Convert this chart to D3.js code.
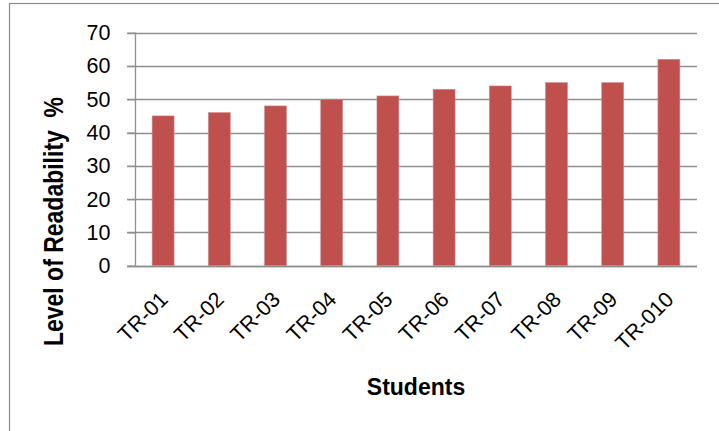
<!DOCTYPE html>
<html>
<head>
<meta charset="utf-8">
<script src="https://cdn.jsdelivr.net/npm/d3@7"></script>
<style>
  body { margin: 0; background: #fff; }
  svg { display: block; font-family: "Liberation Sans", Arial, sans-serif; }
</style>
</head>
<body>
<svg id="chart" width="719" height="431"></svg>
<script>
// --- Data ---
const students = ["TR-01", "TR-02", "TR-03", "TR-04", "TR-05", "TR-06", "TR-07", "TR-08", "TR-09", "TR-010"];
const readability = [45, 46, 48, 50, 51, 53, 54, 55, 55, 62];
const yTicks = [0, 10, 20, 30, 40, 50, 60, 70];

const data = students.map((s, i) => ({ name: s, value: readability[i] }));

const svg = d3.select("#chart");

// outer frame (runs off the right and bottom of the picture)
svg.append("rect")
  .attr("x", 9.5).attr("y", 3.5)
  .attr("width", 740).attr("height", 460)
  .attr("fill", "none")
  .attr("stroke", "#8c8c8c")
  .attr("stroke-width", 1.2);

const plot = { left: 135, right: 697, top: 32.7, bottom: 265.7 };

const x = d3.scaleBand()
  .domain(students)
  .range([plot.left, plot.right])
  .paddingInner(0.61)
  .paddingOuter(0.305);

const y = d3.scaleLinear()
  .domain([0, 70])
  .range([plot.bottom, plot.top]);

// gridlines
svg.append("g")
  .selectAll("line")
  .data(yTicks)
  .enter().append("line")
    .attr("x1", plot.left - 8)
    .attr("x2", plot.right)
    .attr("y1", d => Math.round(y(d)) + 0.5)
    .attr("y2", d => Math.round(y(d)) + 0.5)
    .attr("stroke", "#8f8f8f")
    .attr("stroke-width", 1.3);

// Y axis
const yAxis = svg.append("g")
  .attr("transform", `translate(${plot.left + 0.5},0)`)
  .call(d3.axisLeft(y).tickValues(yTicks).tickSize(8).tickPadding(17));
yAxis.attr("font-size", null);
yAxis.selectAll("line, path").attr("stroke", "#8f8f8f").attr("stroke-width", 1.3);
yAxis.select(".domain").attr("d", `M0,${plot.top}V${plot.bottom}`);
yAxis.selectAll("text")
  .style("font-size", "21.5px")
  .style("font-family", "Liberation Sans, Arial, sans-serif")
  .attr("fill", "#000");

// bars
svg.append("g")
  .selectAll("rect")
  .data(data)
  .enter().append("rect")
    .attr("x", d => x(d.name))
    .attr("y", d => y(d.value))
    .attr("width", x.bandwidth())
    .attr("height", d => plot.bottom - y(d.value))
    .attr("fill", "#c0504d")
    .attr("stroke", "#d08a88")
    .attr("stroke-width", 0.6);

// X axis line
svg.append("line")
  .attr("x1", plot.left - 8).attr("x2", plot.right)
  .attr("y1", Math.round(plot.bottom) + 0.5).attr("y2", Math.round(plot.bottom) + 0.5)
  .attr("stroke", "#8f8f8f")
  .attr("stroke-width", 1.3);

// X tick labels (rotated)
svg.append("g")
  .selectAll("text")
  .data(students)
  .enter().append("text")
    .attr("transform", d => `translate(${x(d) + x.bandwidth() / 2 + 6},${plot.bottom + 35}) rotate(-45)`)
    .attr("text-anchor", "end")
    .style("font-size", "21.5px")
    .text(d => d);

// axis titles
svg.append("text")
  .attr("x", (plot.left + plot.right) / 2)
  .attr("y", 395)
  .attr("text-anchor", "middle")
  .style("font-size", "23px")
  .style("font-weight", "bold")
  .text("Students");

// y title: a little taller across the baseline, like the original
svg.append("text")
  .attr("transform", "translate(63,221.5) rotate(-90) scale(1,1.2)")
  .attr("text-anchor", "middle")
  .style("font-size", "23px")
  .style("font-weight", "bold")
  .style("white-space", "pre")
  .text("Level of Readability  %");
</script>
</body>
</html>
